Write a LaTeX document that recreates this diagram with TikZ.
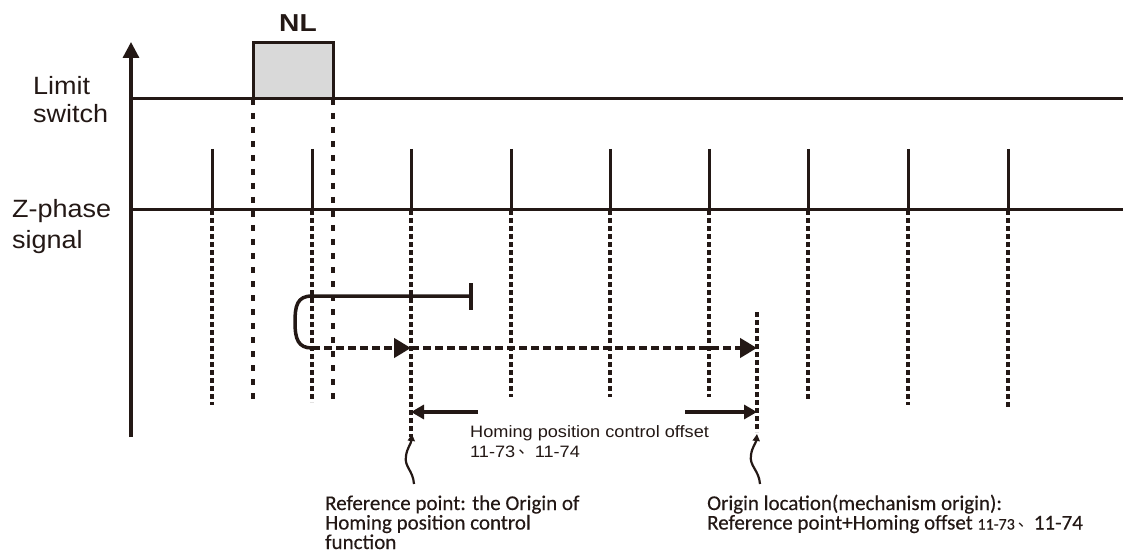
\documentclass[tikz,border=0pt]{standalone}
\usepackage{fontspec}
\setmainfont{Liberation Sans}
\newfontfamily\labfont[FakeStretch=1.08]{Liberation Sans}
\newfontfamily\nlfont[FakeStretch=1.15]{Liberation Sans}
\newfontfamily\offfont[FakeStretch=1.1]{Liberation Sans}
\newfontfamily\notefont[FakeBold=0.3]{Carlito}
\newfontfamily\cjkfont{Noto Sans CJK SC}
\usetikzlibrary{arrows.meta}
\definecolor{ink}{HTML}{231815}
\definecolor{nlgray}{HTML}{D9D9D9}
\newcommand{\dun}{\hspace{3pt}\raisebox{3.5pt}{\cjkfont 、}}
\tikzset{
  sig/.style={draw=ink, line width=3pt},
  dashv/.style={draw=ink, line width=3.2pt, dash pattern=on 5pt off 3pt},
  dashnl/.style={draw=ink, line width=3.2pt, dash pattern=on 6pt off 8pt},
  travel/.style={draw=ink, line width=4.5pt, dash pattern=on 8pt off 4pt},
  bigtip/.style={-{Triangle[length=17pt,width=19pt]}},
  midtip/.style={-{Triangle[length=13pt,width=14pt]}},
  smalltip/.style={-{Triangle[length=7pt,width=7pt]}},
  lab/.style={anchor=base west, inner sep=0pt, text=ink, font={\labfont\fontsize{25pt}{30pt}\selectfont}},
  offtxt/.style={anchor=base west, inner sep=0pt, text=ink, font={\offfont\fontsize{16.5pt}{20pt}\selectfont}},
  note/.style={anchor=base west, inner sep=0pt, text=ink, font={\notefont\fontsize{21pt}{20pt}\selectfont}},
}
\begin{document}
\begin{tikzpicture}[x=1pt,y=-1pt]
\useasboundingbox (0,0) rectangle (1123,553);

% axis
\coordinate (axb) at (131,437);
\coordinate (axt) at (131,42);
\draw[ink, line width=3.3pt, -{Triangle[length=16pt,width=16pt]}] (axb) -- (axt);

% NL box
\node[draw=ink, fill=nlgray, line width=3pt, minimum width=80pt, minimum height=56pt, inner sep=0pt] (nl) at (293,71) {};
\node[anchor=base, inner sep=0pt, text=ink, font={\nlfont\bfseries\fontsize{24.5pt}{28pt}\selectfont}] (nltxt) at (298,32) {NL};

% signal lines
\coordinate (ls0) at (131,99); \coordinate (ls1) at (1123,99);
\coordinate (zs0) at (131,210); \coordinate (zs1) at (1123,210);
\draw[sig] (ls0) -- (ls1);
\draw[sig] (zs0) -- (zs1);

% labels
\node[lab] (lim1) at (33,95) {Limit};
\node[lab] (lim2) at (33,123) {switch};
\node[lab] (zp1) at (12,218) {Z-phase};
\node[lab] (zp2) at (12,248) {signal};

% pulses
\foreach \x in {212,312,411,511,610,709,808,908,1008}
  \draw[sig] (\x,149) -- (\x,210);

% dashed projections
\foreach \x/\e in {212/405,312/402,511/397,610/397,709/397,808/400,908/405,1008/408}
  \draw[dashv] (\x,210) -- (\x,\e);
\draw[dashnl] (253,99) -- (253,402);
\draw[dashnl] (333,99) -- (333,402);
\coordinate (refpt) at (411,437);
\coordinate (orgpt) at (757,432);
\draw[dashv] (411,210) -- (refpt);
\draw[dashv] (757,312) -- (orgpt);

% motion path
\coordinate (stop) at (471,296);
\draw[ink, line width=3.5pt] (stop) -- (312,296) .. controls (297,296) and (295,306) .. (295,322) .. controls (295,339) and (298,348) .. (312,348);
\draw[ink, line width=3.2pt] (471,283) -- (471,310);
\coordinate (ret) at (312,348);
\coordinate (mid) at (411,348);
\coordinate (fin) at (757,348);
\draw[travel, bigtip] (ret) -- (mid);
\draw[travel, bigtip] (mid) -- (fin);

% offset arrows
\draw[ink, line width=3.2pt, midtip] (478,412) -- (411,412);
\draw[ink, line width=3.2pt, midtip] (685,412) -- (757,412);
\node[offtxt] (off1) at (470,437) {Homing position control offset};
\node[offtxt] (off2) at (470,457) {11-73\dun 11-74};

% squiggle pointers
\draw[ink, line width=2.2pt, smalltip] (414,484) .. controls (413,470) and (404,467) .. (406,456) .. controls (407,448) and (411,444) .. (412,434);
\draw[ink, line width=2.2pt, smalltip] (760,484) .. controls (759,470) and (749,466) .. (751,455) .. controls (752,447) and (756,443) .. (757,434);

% notes
\node[note] (n1) at (325,510) {Reference point: the Origin of};
\node[note] (n2) at (325,529.5) {Homing position control};
\node[note] (n3) at (325,549) {function};
\node[note] (n4) at (707,510) {Origin location(mechanism origin):};
\node[note] (n5) at (707,529.5) {Reference point+Homing offset {\fontsize{16pt}{18pt}\selectfont 11-73\dun}11-74};
\end{tikzpicture}
\end{document}
